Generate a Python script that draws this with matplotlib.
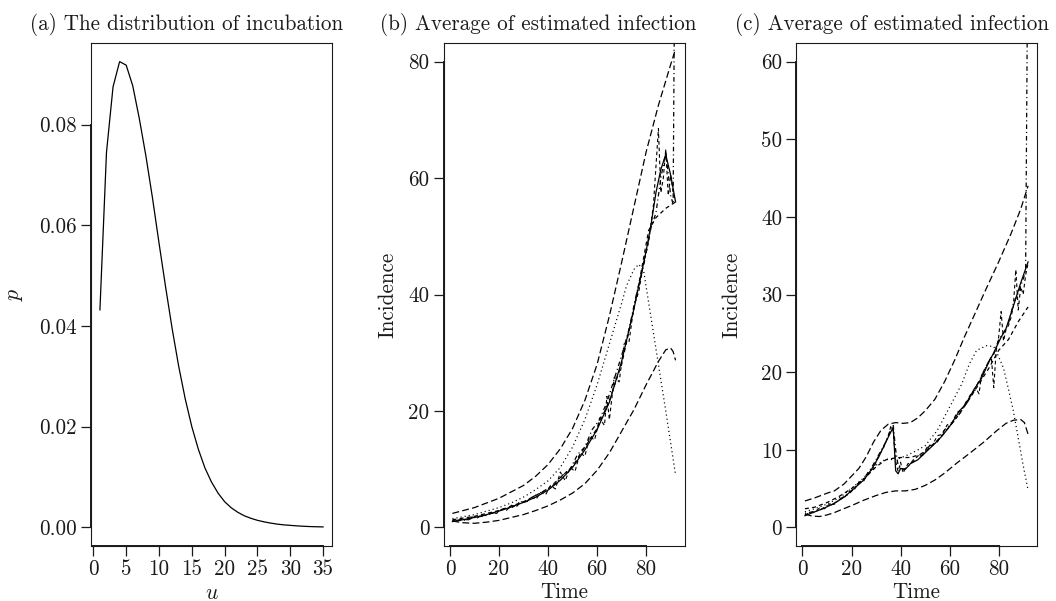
import matplotlib
matplotlib.use("Agg")
import matplotlib.pyplot as plt

plt.rcParams["font.family"] = "cmr10"
plt.rcParams["mathtext.fontset"] = "cm"
plt.rcParams["axes.formatter.use_mathtext"] = True

INK = "#1a1a1a"
FS = 15.2

# (a) incubation distribution
u = list(range(1, 36))
p = [0.0432, 0.0745, 0.0875, 0.0925, 0.0918, 0.0877, 0.0812, 0.0738, 0.0655, 0.0565,
     0.0478, 0.0395, 0.0320, 0.0255, 0.0200, 0.0155, 0.0118, 0.0090, 0.0068, 0.0051,
     0.0039, 0.0030, 0.0023, 0.0018, 0.0014, 0.0011, 0.00085, 0.00065, 0.0005, 0.0004,
     0.0003, 0.00022, 0.00016, 0.00012, 0.00009]

# (b) average of estimated infection
b_solid_t = [1, 5, 10, 15, 20, 25, 30, 35, 40, 45, 50, 55, 60, 65, 70, 75, 78, 80, 82, 84, 86, 88, 90, 92]
b_solid = [1.0, 1.3, 1.7, 2.2, 2.8, 3.5, 4.3, 5.2, 6.4, 8.1, 10.3, 13.3, 16.8, 21.5, 28.5, 37.5,
           43.5, 47.5, 52.0, 57.5, 61.5, 64.0, 60.5, 55.9]
b_upper_t = [1, 10, 20, 30, 35, 40, 45, 50, 55, 60, 65, 70, 75, 80, 85, 90, 92]
b_upper = [2.4, 3.4, 5.0, 7.2, 8.8, 10.8, 13.5, 17.0, 21.8, 28.0, 36.3, 45.5, 55.0, 64.5, 72.5,
           79.5, 82.2]
b_lower_t = [1, 5, 10, 15, 20, 25, 30, 35, 40, 45, 50, 55, 60, 65, 70, 75, 80, 85, 88, 90, 91, 92]
b_lower = [1.1, 0.8, 0.7, 0.9, 1.2, 1.7, 2.2, 2.9, 3.7, 4.7, 5.9, 7.5, 9.8, 12.8, 16.5, 20.2,
           24.5, 28.5, 30.5, 30.8, 30.2, 28.7]
b_dot_t = [1, 5, 10, 15, 20, 25, 30, 35, 40, 45, 50, 55, 60, 65, 70, 72, 75, 77, 79, 82, 85, 88, 90, 92]
b_dot = [1.5, 1.8, 2.2, 2.8, 3.4, 4.2, 5.2, 6.5, 8.0, 10.3, 13.8, 18.5, 24.5, 31.5, 38.5, 41.5,
         44.3, 45.2, 44.0, 36.0, 28.0, 20.0, 14.5, 9.0]
b_dash_t = [1, 10, 20, 30, 40, 50, 60, 65, 70, 75, 78, 81, 84, 88, 92]
b_dash = [1.3, 1.9, 2.9, 4.4, 6.6, 10.5, 17.0, 21.8, 28.0, 37.5, 44.0, 51.0, 53.2, 54.8, 55.9]
b_noisy_t = [1, 3, 5, 7, 9, 11, 13, 15, 17, 19, 21, 23, 25, 27, 29, 31, 33, 35, 37, 39, 41, 43,
             45, 47, 49, 51, 53, 55, 57, 59, 61, 63, 64, 65, 67, 69, 71, 73, 75, 77, 79, 81, 83,
             85, 86, 87, 88, 89, 90, 91, 92]
b_noisy = [1.2, 1.0, 1.4, 1.3, 1.8, 1.6, 2.1, 2.0, 2.5, 2.4, 3.1, 2.9, 3.8, 3.5, 4.4, 4.2, 5.2,
           4.8, 6.0, 5.6, 7.2, 6.6, 9.5, 8.0, 10.3, 9.6, 12.8, 12.2, 15.6, 15.0, 18.8, 17.5, 22.5,
           18.5, 25.8, 25.0, 31.5, 31.8, 38.0, 40.5, 45.5, 49.0, 55.5, 68.5, 57.5, 60.0, 65.0,
           57.0, 60.5, 57.5, 56.0]
b_dd_t = [1, 4, 7, 10, 13, 16, 19, 22, 25, 28, 31, 34, 37, 40, 43, 46, 49, 52, 55, 58, 61, 64,
          67, 70, 73, 76, 79, 82, 84, 86, 88, 90, 91, 92]
b_dd = [1.0, 1.3, 1.2, 1.8, 1.9, 2.3, 2.6, 3.2, 3.3, 4.2, 4.4, 5.3, 5.9, 6.7, 7.5, 9.0, 10.0,
        12.5, 13.8, 16.8, 18.5, 21.5, 25.5, 29.5, 34.0, 40.0, 45.0, 51.5, 54.0, 60.0, 64.5,
        57.0, 55.5, 120.0]

# (c) average of estimated infection
c_solid_t = [1, 5, 9, 13, 17, 21, 25, 28, 31, 34, 37, 38, 39, 40, 42, 44, 47, 50, 54, 57, 60,
             64, 67, 70, 73, 76, 78, 81, 83, 86, 89, 92]
c_solid = [1.5, 2.0, 2.5, 3.1, 3.9, 5.0, 6.1, 7.4, 9.0, 11.0, 12.9, 7.3, 6.9, 7.6, 7.5, 8.2,
           8.7, 9.6, 10.8, 11.8, 13.0, 15.0, 16.0, 17.8, 19.2, 21.3, 22.5, 24.5, 25.6, 28.5,
           31.5, 34.2]
c_upper_t = [1, 5, 10, 13, 17, 20, 23, 26, 29, 32, 35, 38, 41, 44, 47, 50, 54, 58, 62, 66, 70,
             75, 80, 85, 89, 92]
c_upper = [3.4, 3.8, 4.4, 4.7, 5.6, 6.6, 7.6, 9.1, 11.0, 12.5, 13.3, 13.5, 13.4, 13.5, 14.1,
           15.0, 16.5, 18.8, 21.5, 24.5, 27.3, 30.8, 34.2, 37.8, 41.0, 44.0]
c_lower_t = [1, 4, 7, 10, 13, 16, 20, 25, 30, 34, 38, 42, 46, 50, 54, 58, 63, 68, 74, 79, 83,
             86, 89, 90.5, 92]
c_lower = [1.7, 1.45, 1.4, 1.6, 1.9, 2.3, 2.8, 3.5, 4.1, 4.5, 4.7, 4.7, 4.9, 5.4, 6.1, 7.0,
           8.3, 9.5, 11.0, 12.4, 13.4, 13.8, 13.9, 13.5, 12.0]
c_dot_t = [1, 5, 10, 15, 20, 25, 30, 34, 38, 42, 46, 50, 55, 60, 65, 68, 71, 75, 78, 80, 82,
           84, 86, 88, 90, 92]
c_dot = [2.0, 2.4, 3.0, 3.8, 5.0, 6.4, 8.0, 8.8, 8.7, 9.2, 9.8, 10.5, 12.5, 15.5, 18.5, 21.0,
         22.8, 23.4, 23.3, 22.0, 20.5, 17.8, 15.0, 11.5, 8.0, 4.8]
c_dash_t = [1, 5, 10, 15, 20, 25, 30, 34, 37, 40, 44, 48, 52, 56, 60, 64, 68, 72, 76, 80, 84,
            88, 92]
c_dash = [2.4, 2.6, 3.2, 4.0, 5.0, 6.2, 7.8, 8.7, 8.9, 9.0, 9.0, 9.4, 10.3, 11.5, 13.0, 14.6,
          16.5, 18.5, 20.5, 22.8, 24.2, 26.5, 28.4]
c_noisy_t = [1, 3, 5, 7, 9, 11, 13, 15, 17, 19, 21, 23, 25, 27, 29, 31, 33, 35, 36, 37, 38, 39,
             40, 41, 43, 45, 47, 49, 51, 53, 55, 57, 59, 61, 63, 65, 67, 69, 71, 72, 73, 75, 77,
             78, 79, 80, 81, 82, 83, 84, 85, 86, 87, 88, 89, 90, 91, 92]
c_noisy = [1.6, 1.9, 2.0, 2.5, 2.4, 3.0, 3.1, 3.6, 3.8, 4.6, 4.8, 5.8, 6.0, 7.2, 7.6, 9.2, 10.2,
           11.8, 13.0, 12.4, 8.5, 7.2, 8.4, 7.0, 8.2, 8.4, 9.2, 9.4, 10.4, 10.6, 11.8, 12.0,
           13.2, 13.5, 14.8, 15.2, 16.2, 17.4, 17.8, 17.2, 19.6, 20.8, 22.0, 18.0, 22.8, 24.5,
           27.8, 24.0, 25.5, 26.0, 27.0, 28.5, 33.2, 28.0, 31.0, 30.0, 32.5, 34.0]
c_dd_t = [1, 4, 7, 10, 13, 16, 19, 22, 25, 28, 31, 34, 36, 37, 38, 39, 41, 43, 46, 49, 52, 55,
          58, 61, 64, 67, 70, 73, 76, 78, 80, 82, 84, 86, 88, 90, 91, 92]
c_dd = [1.8, 2.0, 2.2, 2.8, 3.0, 3.8, 4.3, 5.4, 6.3, 7.6, 9.3, 11.0, 12.6, 13.2, 10.0, 8.0,
        7.4, 7.8, 9.0, 9.3, 10.6, 11.0, 12.6, 13.4, 14.6, 16.3, 17.6, 19.5, 21.4, 22.3, 24.2,
        25.0, 26.3, 28.8, 30.2, 32.0, 33.0, 80.0]

LW = 0.9
long_dash = (0, (5.5, 2.6))
short_dash = (0, (3.2, 2.6))
dotted = (0, (0.9, 2.4))
dot_dash = (0, (0.9, 2.4, 3.6, 2.4))

fig = plt.figure(figsize=(10.56, 6.01), dpi=100)
W, H = 1056, 601


def make_axes(left_px):
    return fig.add_axes([left_px / W, 55 / H, 241 / W, 503 / H])


def style(ax, xticks, yticks, ylabels):
    ax.set_xticks(xticks)
    ax.set_yticks(yticks)
    ax.set_xticklabels([str(x) for x in xticks])
    ax.set_yticklabels(ylabels)
    ax.tick_params(direction="out", length=7, width=0.9, pad=3, labelsize=FS,
                   colors=INK, labelcolor=INK)
    for s in ax.spines.values():
        s.set_linewidth(0.8)
        s.set_color(INK)
    # R style axis lines spanning the tick range
    ax.plot([xticks[0], xticks[-1]], [0, 0], transform=ax.get_xaxis_transform(),
            clip_on=False, color=INK, lw=1.4)
    ax.plot([0, 0], [yticks[0], yticks[-1]], transform=ax.get_yaxis_transform(),
            clip_on=False, color=INK, lw=1.4)


# panel (a)
ax1 = make_axes(91)
ax1.plot(u, p, color="black", lw=LW)
ax1.set_xlim(-0.36, 36.36)
ax1.set_ylim(-0.0037, 0.0962)
style(ax1, [0, 5, 10, 15, 20, 25, 30, 35], [0, 0.02, 0.04, 0.06, 0.08],
      ["0.00", "0.02", "0.04", "0.06", "0.08"])
ax1.text(0.5, -0.093, r"$u$", transform=ax1.transAxes, ha="center", va="center",
         fontsize=FS + 0.5, color=INK)
ax1.text((15 - 91) / 241, 0.5, r"$p$", transform=ax1.transAxes, ha="center", va="center",
         rotation=90, fontsize=FS + 0.5, color=INK)


def infection_panel(ax, d, ymax, yticks, label_x):
    ax.plot(d["upper"][0], d["upper"][1], color="black", lw=LW, ls=long_dash)
    ax.plot(d["lower"][0], d["lower"][1], color="black", lw=LW, ls=long_dash)
    ax.plot(d["dot"][0], d["dot"][1], color="black", lw=LW, ls=dotted)
    ax.plot(d["dash"][0], d["dash"][1], color="black", lw=LW, ls=short_dash)
    ax.plot(d["noisy"][0], d["noisy"][1], color="black", lw=LW * 0.9, ls=short_dash)
    ax.plot(d["dd"][0], d["dd"][1], color="black", lw=LW, ls=dot_dash)
    ax.plot(d["solid"][0], d["solid"][1], color="black", lw=LW)
    ax.set_xlim(-2.64, 95.64)
    ax.set_ylim(-0.04 * ymax, 1.04 * ymax)
    style(ax, [0, 20, 40, 60, 80], yticks, [str(y) for y in yticks])
    ax.text(0.5, -0.091, "Time", transform=ax.transAxes, ha="center", va="center",
            fontsize=FS, color=INK)
    ax.text(label_x, 0.5, "Incidence", transform=ax.transAxes, ha="center", va="center",
            rotation=90, fontsize=FS, color=INK)


ax2 = make_axes(443.5)
infection_panel(ax2, {"solid": (b_solid_t, b_solid), "upper": (b_upper_t, b_upper),
                      "lower": (b_lower_t, b_lower), "dot": (b_dot_t, b_dot),
                      "dash": (b_dash_t, b_dash), "noisy": (b_noisy_t, b_noisy),
                      "dd": (b_dd_t, b_dd)},
                80, [0, 20, 40, 60, 80], (388 - 443.5) / 241)

ax3 = make_axes(796)
infection_panel(ax3, {"solid": (c_solid_t, c_solid), "upper": (c_upper_t, c_upper),
                      "lower": (c_lower_t, c_lower), "dot": (c_dot_t, c_dot),
                      "dash": (c_dash_t, c_dash), "noisy": (c_noisy_t, c_noisy),
                      "dd": (c_dd_t, c_dd)},
                60, [0, 10, 20, 30, 40, 50, 60], (731.7 - 796) / 241)

titles = ["(a) The distribution of incubation", "(b) Average of estimated infection",
          "(c) Average of estimated infection"]
centers = [187, 538, 892]
for t, cx in zip(titles, centers):
    fig.text(cx / W, 1 - 29.5 / H, t, ha="center", va="baseline", fontsize=FS, color=INK)

fig.savefig("out.png", dpi=100)
